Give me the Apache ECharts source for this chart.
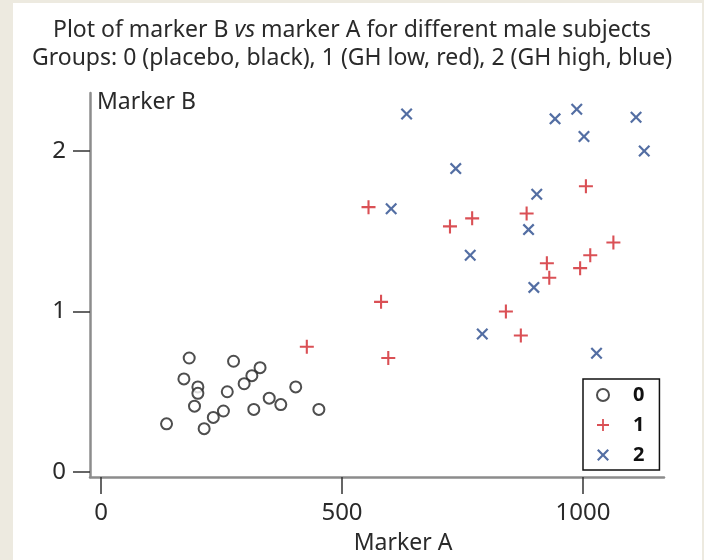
<!DOCTYPE html>
<html>
<head>
<meta charset="utf-8">
<script src="https://cdn.jsdelivr.net/npm/echarts@6/dist/echarts.min.js"></script>
<style>
html,body{margin:0;padding:0;}
#wrap{position:relative;width:704px;height:560px;background:#edeae0;overflow:hidden;}
#panel{position:absolute;left:13px;top:3px;width:689px;height:557px;background:#ffffff;}
#chart{position:absolute;left:0;top:0;width:704px;height:560px;}
</style>
</head>
<body>
<div id="wrap"><div id="panel"></div><div id="chart"></div></div>
<script>
// Group 0 (placebo, black)
const group0 = [
  [183,0.71],[275,0.69],[172,0.58],[201,0.53],[201,0.49],[330,0.65],[313,0.60],
  [297,0.55],[262,0.50],[194,0.41],[254,0.38],[233,0.34],[214,0.27],[136,0.30],
  [317,0.39],[349,0.46],[373,0.42],[404,0.53],[452,0.39]
];
// Group 1 (GH low, red)
const group1 = [
  [555,1.65],[1006,1.78],[883,1.61],[770,1.58],[724,1.53],[1063,1.43],[1015,1.35],
  [925,1.30],[994,1.27],[930,1.21],[581,1.06],[840,1.00],[871,0.85],[596,0.71],[427,0.78]
];
// Group 2 (GH high, blue)
const group2 = [
  [634,2.23],[942,2.20],[987,2.26],[1110,2.21],[1002,2.09],[1127,2.00],[736,1.89],
  [904,1.73],[602,1.64],[887,1.51],[766,1.35],[898,1.15],[791,0.86],[1028,0.74]
];
const groupNames = ['0','1','2'];
const xTicks = [0, 500, 1000];
const yTicks = [0, 1, 2];

const FONT = 'Noto Sans';
const TXT = '#2a2a2a';
const plusPath = 'path://M4.25,0H5.75V4.25H10V5.75H5.75V10H4.25V5.75H0V4.25H4.25Z';
const crossPath = 'path://M0,1.3L1.3,0L5,3.7L8.7,0L10,1.3L6.3,5L10,8.7L8.7,10L5,6.3L1.3,10L0,8.7L3.7,5Z';

const chart = echarts.init(document.getElementById('chart'), null, {renderer:'canvas'});
chart.setOption({
  backgroundColor: 'transparent',
  animation: false,
  textStyle: {fontFamily: FONT, color: TXT},
  title: {
    left: 'center',
    top: 11,
    text: 'Plot of marker B {i|vs} marker A for different male subjects\nGroups: 0 (placebo, black), 1 (GH low, red), 2 (GH high, blue)',
    textStyle: {
      fontFamily: FONT, fontSize: 23, fontWeight: 'normal', color: TXT, lineHeight: 28,
      rich: {i: {fontFamily: FONT, fontSize: 23, fontStyle: 'italic', color: TXT, lineHeight: 28}}
    }
  },
  grid: {left: 90, right: 40, top: 93, bottom: 83, containLabel: false},
  xAxis: {
    type: 'value', min: -22.8, max: 1168,
    name: 'Marker A', nameLocation: 'middle', nameGap: 55,
    nameTextStyle: {fontFamily: FONT, fontSize: 23, color: TXT, padding: [0,0,0,52]},
    axisLine: {show: true, onZero: false, lineStyle: {color: '#8c8c8c', width: 2.5}},
    axisTick: {show: true, length: 17, customValues: xTicks, lineStyle: {color: '#333', width: 1.5}},
    axisLabel: {show: true, customValues: xTicks, margin: 24, fontFamily: FONT, fontSize: 24, color: TXT,
      formatter: function (v) { return String(v); }},
    splitLine: {show: false}
  },
  yAxis: {
    type: 'value', min: -0.0312, max: 2.361,
    name: 'Marker B', nameLocation: 'end', nameGap: 2,
    nameTextStyle: {fontFamily: FONT, fontSize: 23, color: TXT, align: 'left', verticalAlign: 'top', padding: [0,0,0,7]},
    axisLine: {show: true, onZero: false, lineStyle: {color: '#8c8c8c', width: 2.5}},
    axisTick: {show: true, length: 17, customValues: yTicks, lineStyle: {color: '#333', width: 1.5}},
    axisLabel: {show: true, customValues: yTicks, margin: 24, fontFamily: FONT, fontSize: 24, color: TXT,
      formatter: function (v) { return String(v); }},
    splitLine: {show: false}
  },
  legend: {
    orient: 'vertical',
    left: 583, top: 379,
    width: 79,
    padding: [6, 15, 5, 13],
    itemGap: 10,
    itemWidth: 12, itemHeight: 20,
    borderColor: '#111', borderWidth: 1.5, borderRadius: 0,
    backgroundColor: '#fff',
    textStyle: {fontFamily: FONT, fontSize: 20, fontWeight: 'bold', color: '#111', padding: [0,0,0,19]},
    data: groupNames
  },
  series: [
    {name: groupNames[0], type: 'scatter', data: group0, symbol: 'emptyCircle', symbolSize: 11,
     itemStyle: {color: '#222', borderColor: '#222', borderWidth: 1.6}},
    {name: groupNames[1], type: 'scatter', data: group1, symbol: plusPath, symbolSize: 14,
     itemStyle: {color: '#d1242b'}},
    {name: groupNames[2], type: 'scatter', data: group2, symbol: crossPath, symbolSize: 12,
     itemStyle: {color: '#284a8c'}}
  ]
});
</script>
</body>
</html>
